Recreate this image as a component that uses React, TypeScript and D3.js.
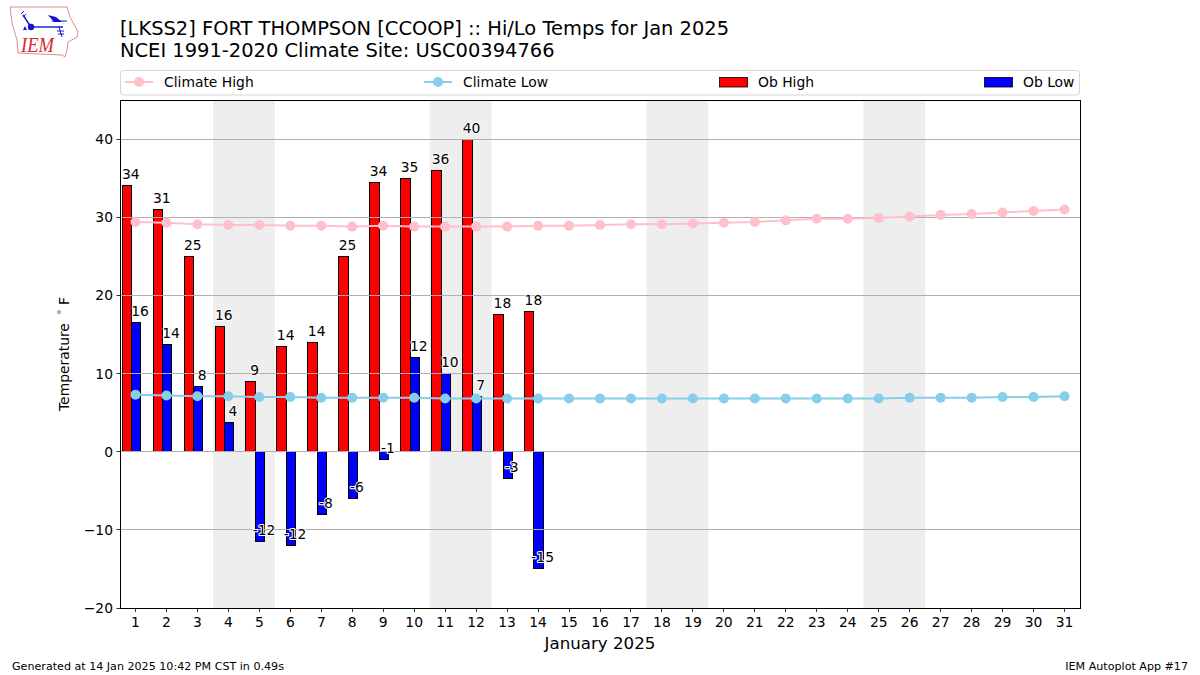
import React from "react";
import * as d3 from "d3";

const days = d3.range(1, 32);
const obHigh = [34, 31, 25, 16, 9, 13.5, 14, 25, 34.5, 35, 36, 40, 17.5, 18];
const obLow = [16.5, 13.7, 8.3, 3.7, -11.5, -12, -8, -6, -1, 12, 10, 7, -3.4, -15];
const highLabels = ["34", "31", "25", "16", "9", "14", "14", "25", "34", "35", "36", "40", "18", "18"];
const lowLabels = ["16", "14", "8", "4", "-12", "-12", "-8", "-6", "-1", "12", "10", "7", "-3", "-15"];
const climateHigh = [29.4, 29.3, 29.1, 29.0, 29.0, 28.9, 28.9, 28.8, 28.9, 28.8, 28.8, 28.8, 28.8, 28.9, 28.9, 29.0, 29.1, 29.1, 29.2, 29.3, 29.4, 29.6, 29.8, 29.8, 29.9, 30.1, 30.3, 30.4, 30.6, 30.8, 31.0];
const climateLow = [7.3, 7.2, 7.1, 7.1, 7.0, 7.0, 6.9, 6.9, 6.9, 6.9, 6.8, 6.8, 6.8, 6.8, 6.8, 6.8, 6.8, 6.8, 6.8, 6.8, 6.8, 6.8, 6.8, 6.8, 6.8, 6.9, 6.9, 6.9, 7.0, 7.0, 7.1];
const weekendStarts = [4, 11, 18, 25];
const yTicks = [-20, -10, 0, 10, 20, 30, 40];
const FONT = "'DejaVu Sans', sans-serif";

const L = 120, R = 1080, T = 100, B = 608;
const x = d3.scaleLinear().domain([0.5, 31.5]).range([L, R]);
const y = d3.scaleLinear().domain([-20, 45]).range([B, T]);
const BAR = 0.3;
const snapBarX = (v: number) => Math.floor(v) - 0.5;
const snap = (v: number) => Math.floor(v) + 0.5;

function Label({ px, py, text }: { px: number; py: number; text: string }) {
  return (
    <text x={px} y={py} textAnchor="middle" fontSize={13.89} fill="#000" stroke="#fff" strokeWidth={2} paintOrder="stroke" strokeLinejoin="round">
      {text}
    </text>
  );
}

function Bar({ day, offset, value, color }: { day: number; offset: number; value: number; color: string }) {
  const x0 = snapBarX(x(day + offset));
  const x1 = snapBarX(x(day + offset + BAR));
  const y0 = snap(y(Math.max(value, 0)));
  const y1 = snap(y(Math.min(value, 0)));
  return <rect x={x0} y={y0} width={x1 - x0} height={y1 - y0} fill={color} stroke="#000" strokeWidth={1} />;
}

function Logo() {
  return (
    <g>
      <path d="M10 7 L67 7 L70 17 L78 32 L77 37 L68 42 L67 50 L65 57 L62 55 L18 53 L17 40 L12 23 Z" fill="#fff" stroke="#e58a8a" strokeWidth={1} />
      <text x={21} y={52} fontFamily="'Liberation Serif', serif" fontStyle="italic" fontSize={21} fill="#d8262c" textLength={33} lengthAdjust="spacingAndGlyphs">IEM</text>
      <g stroke="#1414d2" fill="none" strokeWidth={1.4}>
        <path d="M31 27 H63" />
        <path d="M31 27 L23 15" />
        <path d="M21 14 L24 11 M23 17 L26 14" strokeWidth={1} />
        <path d="M59 27 L62 37 M57 31 H64 M58 34 H64" strokeWidth={1} />
        <path d="M52 21 H67" strokeWidth={1} />
      </g>
      <circle cx={31} cy={27} r={3.2} fill="#1414d2" />
      <path d="M48 15 L56 17 L62 22 L54 22 Z" fill="#1414d2" />
      <path d="M23 30 L25 26 L27 30 Z" fill="#1414d2" />
    </g>
  );
}

export default function App() {
  const lineFn = (vals: number[]) =>
    d3.line<number>().x((_, i) => x(days[i])).y((d) => y(d))(vals) ?? "";
  return (
    <svg width={1200} height={675} style={{ position: "absolute", left: 0, top: 0, background: "#fff" }} fontFamily={FONT}>
      <Logo />
      <text x={120} y={35} fontSize={19.44}>[LKSS2] FORT THOMPSON [CCOOP] :: Hi/Lo Temps for Jan 2025</text>
      <text x={120} y={57} fontSize={19.44}>NCEI 1991-2020 Climate Site: USC00394766</text>

      {/* legend */}
      <rect x={120.5} y={70.5} width={959} height={24.5} rx={3} fill="#fff" stroke="#d6d6d6" strokeWidth={1} />
      <line x1={125} x2={153} y1={82} y2={82} stroke="pink" strokeWidth={2} />
      <circle cx={139} cy={82} r={5} fill="pink" />
      <text x={164} y={86.5} fontSize={13.89}>Climate High</text>
      <line x1={424} x2={452} y1={82} y2={82} stroke="skyblue" strokeWidth={2} />
      <circle cx={438} cy={82} r={5} fill="skyblue" />
      <text x={463} y={86.5} fontSize={13.89}>Climate Low</text>
      <rect x={719.5} y={77.5} width={28} height={9.5} fill="red" stroke="#000" strokeWidth={0.8} />
      <text x={758} y={86.5} fontSize={13.89}>Ob High</text>
      <rect x={984.5} y={77.5} width={28} height={9.5} fill="blue" stroke="#000" strokeWidth={0.8} />
      <text x={1023} y={86.5} fontSize={13.89}>Ob Low</text>

      {/* weekend shading */}
      {weekendStarts.map((d) => (
        <rect key={d} x={x(d - 0.5)} y={T} width={x(d + 1.5) - x(d - 0.5)} height={B - T} fill="#eeeeee" />
      ))}

      {/* bars */}
      {obHigh.map((v, i) => <Bar key={i} day={days[i]} offset={-0.4} value={v} color="red" />)}
      {obLow.map((v, i) => <Bar key={i} day={days[i]} offset={-0.1} value={v} color="blue" />)}

      {/* grid */}
      {yTicks.filter((t) => t > -20).map((t) => (
        <line key={t} x1={L} x2={R} y1={snap(y(t))} y2={snap(y(t))} stroke="#b0b0b0" strokeWidth={1} />
      ))}

      {/* climate lines */}
      <path d={lineFn(climateHigh)} fill="none" stroke="pink" strokeWidth={2} />
      {climateHigh.map((v, i) => <circle key={i} cx={x(days[i])} cy={y(v)} r={5} fill="pink" />)}
      <path d={lineFn(climateLow)} fill="none" stroke="skyblue" strokeWidth={2} />
      {climateLow.map((v, i) => <circle key={i} cx={x(days[i])} cy={y(v)} r={5} fill="skyblue" />)}

      {/* labels */}
      {obHigh.map((v, i) => <Label key={i} px={x(days[i] - 0.15)} py={y(v) - 6.5} text={highLabels[i]} />)}
      {obLow.map((v, i) => <Label key={i} px={x(days[i] + 0.15)} py={y(v) - 6.5} text={lowLabels[i]} />)}

      {/* frame */}
      <rect x={120.5} y={100.5} width={960} height={508} fill="none" stroke="#000" strokeWidth={1} />

      {/* y axis */}
      {yTicks.map((t) => (
        <g key={t}>
          <line x1={L - 3.5} x2={L} y1={snap(y(t))} y2={snap(y(t))} stroke="#000" strokeWidth={0.8} />
          <text x={L - 7} y={y(t) + 5} textAnchor="end" fontSize={13.89}>{t < 0 ? `\u2212${-t}` : t}</text>
        </g>
      ))}
      <text transform="translate(69,411) rotate(-90)" fontSize={13.89}>
        <tspan x={0}>Temperature</tspan>
        <tspan x={96} dy={-7} fontSize={9.7}>{"\u2218"}</tspan>
        <tspan x={106} dy={7}>F</tspan>
      </text>

      {/* x axis */}
      {days.map((d) => (
        <g key={d}>
          <line x1={snap(x(d))} x2={snap(x(d))} y1={B} y2={B + 4} stroke="#000" strokeWidth={0.8} />
          <text x={x(d)} y={B + 18.5} textAnchor="middle" fontSize={13.89}>{d}</text>
        </g>
      ))}
      <text x={600} y={649} textAnchor="middle" fontSize={16.67}>January 2025</text>

      {/* footers */}
      <text x={12} y={670} fontSize={11.11}>Generated at 14 Jan 2025 10:42 PM CST in 0.49s</text>
      <text x={1188} y={670} textAnchor="end" fontSize={11.11}>IEM Autoplot App #17</text>
    </svg>
  );
}
